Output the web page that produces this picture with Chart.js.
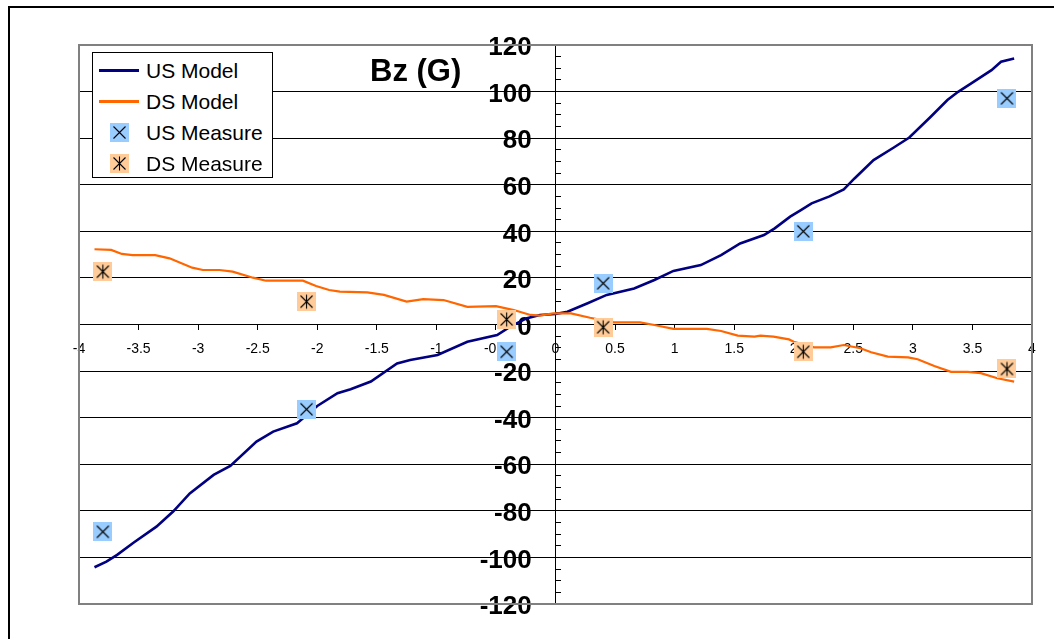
<!DOCTYPE html>
<html>
<head>
<meta charset="utf-8">
<script src="https://cdn.jsdelivr.net/npm/chart.js@4"></script>
<style>
  html, body { margin: 0; padding: 0; background: #fff; }
  #wrap { position: relative; width: 1054px; height: 639px; overflow: hidden; background: #fff; }
  #frame { position: absolute; left: 8px; top: 6px; width: 1200px; height: 800px; border-left: 2px solid #000; border-top: 2px solid #000; }
  #chart { position: absolute; left: 0; top: 0; }
  #title { position: absolute; left: 370px; top: 55px; font-family: "Liberation Sans", Arial, sans-serif; font-weight: bold; font-size: 31px; line-height: 31px; color: #000; white-space: nowrap; }
  #legend { position: absolute; left: 92px; top: 52px; width: 179px; height: 124px; border: 1px solid #000; background: #fff; font-family: "Liberation Sans", Arial, sans-serif; font-size: 21px; color: #000; }
  .row { position: absolute; left: 0; height: 30px; line-height: 30px; width: 179px; }
  .txt { position: absolute; left: 53px; top: 0; white-space: nowrap; }
  .ln { position: absolute; left: 6px; width: 40px; height: 3px; top: 13.5px; }
  .mk { position: absolute; left: 17px; top: 5.5px; }
</style>
</head>
<body>
<div id="wrap">
  <div id="frame"></div>
  <canvas id="chart" width="1054" height="639"></canvas>
  <div id="title">Bz (G)</div>
  <div id="legend"></div>
</div>
<script>
// ---- data ----
const seriesNames = ['US Model', 'DS Model', 'US Measure', 'DS Measure'];
const xTicks = [-4, -3.5, -3, -2.5, -2, -1.5, -1, -0.5, 0, 0.5, 1, 1.5, 2, 2.5, 3, 3.5, 4];
const yTicks = [-120, -100, -80, -60, -40, -20, 0, 20, 40, 60, 80, 100, 120];

const usModelX = [-3.87, -3.77, -3.68, -3.54, -3.35, -3.21, -3.07, -2.87, -2.73, -2.51, -2.37, -2.17, -2.09, -2.00,
  -1.83, -1.72, -1.55, -1.33, -1.22, -0.99, -0.74, -0.49, -0.38, -0.24, -0.13, 0.0, 0.1, 0.27, 0.43, 0.66, 0.83, 0.99,
  1.22, 1.39, 1.55, 1.75, 1.84, 1.97, 2.06, 2.15, 2.3, 2.42, 2.51, 2.67, 2.84, 2.97, 3.15, 3.29, 3.38, 3.49, 3.66, 3.74, 3.85];
const usModelY = [-104.2, -101.8, -98.9, -93.6, -86.8, -80.3, -72.5, -64.6, -60.7, -50.3, -46.0, -42.4, -39.0, -35.0,
  -29.5, -27.8, -24.5, -16.7, -15.2, -13.1, -7.4, -4.5, -0.9, 2.7, 4.1, 4.5, 5.5, 9.1, 12.7, 15.5, 19.1, 23.0,
  25.5, 29.8, 34.8, 38.4, 41.3, 46.3, 49.1, 52.0, 55.0, 58.0, 62.7, 70.6, 76.0, 80.3, 89.2, 96.4, 99.9, 103.5, 109.2, 112.8, 114.2];

const dsModelX = [-3.87, -3.73, -3.64, -3.55, -3.36, -3.24, -3.05, -2.96, -2.82, -2.71, -2.54, -2.43, -2.12, -2.01,
  -1.90, -1.81, -1.58, -1.44, -1.25, -1.11, -0.94, -0.74, -0.50, -0.35, -0.21, -0.13, -0.02, 0.13, 0.29, 0.49, 0.71,
  0.83, 0.99, 1.27, 1.39, 1.53, 1.67, 1.72, 1.83, 1.96, 2.00, 2.17, 2.31, 2.42, 2.56, 2.65, 2.79, 2.96, 3.04, 3.18,
  3.32, 3.46, 3.57, 3.71, 3.85];
const dsModelY = [32.3, 32.0, 30.3, 29.8, 29.8, 28.4, 24.4, 23.4, 23.4, 22.7, 20.1, 18.8, 18.8, 16.5,
  14.8, 14.1, 13.8, 12.7, 9.8, 10.9, 10.5, 7.6, 7.9, 6.2, 4.1, 3.8, 4.8, 4.8, 2.9, 0.9, 0.9,
  -0.2, -1.9, -1.9, -2.8, -4.8, -5.2, -4.8, -5.2, -6.4, -7.4, -9.8, -9.8, -8.8, -10.2, -11.9, -13.8, -14.1, -14.9, -17.8,
  -20.3, -20.3, -20.9, -23.1, -24.5];

const measureX = [-3.8, -2.09, -0.41, 0.4, 2.08, 3.79];
const usMeasureY = [-89.0, -36.4, -11.7, 17.7, 40.0, 97.1];
const dsMeasureY = [22.7, 9.8, 2.2, -1.2, -11.7, -19.1];

// ---- styling ----
const FONT = '"Liberation Sans", Arial, sans-serif';
const US_LINE = '#000080';
const DS_LINE = '#FF6600';
const US_FILL = '#99CCFF';
const DS_FILL = '#FFCC99';

function makeMarker(fill, star) {
  const c = document.createElement('canvas');
  c.width = 19; c.height = 19;
  const g = c.getContext('2d');
  g.fillStyle = fill;
  g.fillRect(0, 0, 19, 19);
  g.strokeStyle = '#000';
  g.lineWidth = 1.1;
  g.beginPath();
  g.moveTo(3.5, 3.5); g.lineTo(15.5, 15.5);
  g.moveTo(15.5, 3.5); g.lineTo(3.5, 15.5);
  if (star) { g.moveTo(9.5, 2.5); g.lineTo(9.5, 16.5); }
  g.stroke();
  return c;
}
const usMarker = makeMarker(US_FILL, false);
const dsMarker = makeMarker(DS_FILL, true);

const toPts = (xs, ys) => xs.map((x, i) => ({ x: x, y: ys[i] }));

const plotBorder = {
  id: 'plotBorder',
  beforeDatasetsDraw(chart) {
    const a = chart.chartArea, ctx = chart.ctx;
    ctx.save();
    ctx.strokeStyle = '#808080';
    ctx.lineWidth = 2;
    ctx.strokeRect(a.left, a.top, a.right - a.left, a.bottom - a.top);
    ctx.restore();
  }
};

const chart = new Chart(document.getElementById('chart'), {
  type: 'scatter',
  data: {
    datasets: [
      { label: seriesNames[2], data: toPts(measureX, usMeasureY), showLine: false, pointStyle: usMarker, pointRadius: 9, order: 0 },
      { label: seriesNames[3], data: toPts(measureX, dsMeasureY), showLine: false, pointStyle: dsMarker, pointRadius: 9, order: 0 },
      { label: seriesNames[1], data: toPts(dsModelX, dsModelY), showLine: true, borderColor: DS_LINE, borderWidth: 2.2, pointRadius: 0, tension: 0, fill: false, order: 1 },
      { label: seriesNames[0], data: toPts(usModelX, usModelY), showLine: true, borderColor: US_LINE, borderWidth: 2.6, pointRadius: 0, tension: 0, fill: false, order: 2 }
    ]
  },
  options: {
    responsive: false,
    devicePixelRatio: 1,
    animation: false,
    layout: { padding: { left: 79, right: 22, top: 45, bottom: 35 } },
    plugins: { legend: { display: false }, tooltip: { enabled: false } },
    scales: {
      x: {
        type: 'linear', min: -4, max: 4,
        position: { y: 0 },
        afterBuildTicks: s => { s.ticks = xTicks.map(v => ({ value: v })); },
        grid: { display: true, drawOnChartArea: false, drawTicks: true, tickLength: 5, color: '#000', tickWidth: 1 },
        border: { display: true, color: '#000', width: 1 },
        ticks: { font: { family: FONT, size: 14 }, color: '#000', padding: 11, maxRotation: 0, autoSkip: false, callback: v => String(v) }
      },
      y: {
        type: 'linear', min: -120, max: 120,
        position: { x: 0 },
        afterBuildTicks: s => { s.ticks = yTicks.map(v => ({ value: v })); },
        grid: { color: '#000', lineWidth: 1, drawTicks: true, tickLength: 8, tickWidth: 1 },
        border: { display: true, color: '#000', width: 1 },
        ticks: { display: false }
      },
      yLabels: {
        type: 'linear', axis: 'y', min: -120, max: 120,
        position: { x: -0.2 },
        afterBuildTicks: s => { s.ticks = yTicks.map(v => ({ value: v })); },
        grid: { display: false },
        border: { display: false },
        ticks: { font: { family: FONT, size: 26, weight: 'bold' }, color: '#000', labelOffset: 3, autoSkip: false, callback: v => String(v) }
      },
      y2: {
        type: 'linear', axis: 'y', min: -120, max: 120,
        position: { x: 0 },
        ticks: { display: false, stepSize: 5, maxTicksLimit: 100 },
        grid: { drawOnChartArea: false, drawTicks: true, tickLength: -5, color: '#000', tickWidth: 1 },
        border: { display: false }
      }
    }
  },
  plugins: [plotBorder]
});

// ---- legend (HTML) ----
const legend = document.getElementById('legend');
const legendItems = [
  { name: seriesNames[0], kind: 'line', color: US_LINE },
  { name: seriesNames[1], kind: 'line', color: DS_LINE },
  { name: seriesNames[2], kind: 'mark', marker: usMarker },
  { name: seriesNames[3], kind: 'mark', marker: dsMarker }
];
legendItems.forEach((it, i) => {
  const row = document.createElement('div');
  row.className = 'row';
  row.style.top = (2.5 + 31 * i) + 'px';
  if (it.kind === 'line') {
    const l = document.createElement('div');
    l.className = 'ln';
    l.style.background = it.color;
    row.appendChild(l);
  } else {
    const c = document.createElement('canvas');
    c.width = 19; c.height = 19; c.className = 'mk';
    c.getContext('2d').drawImage(it.marker, 0, 0);
    row.appendChild(c);
  }
  const t = document.createElement('span');
  t.className = 'txt';
  t.textContent = it.name;
  row.appendChild(t);
  legend.appendChild(row);
});
</script>
</body>
</html>
